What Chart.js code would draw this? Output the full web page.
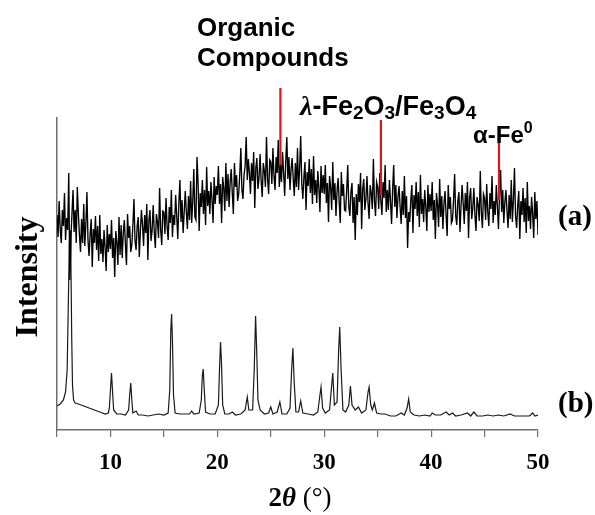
<!DOCTYPE html>
<html><head><meta charset="utf-8">
<script src="https://cdn.jsdelivr.net/npm/chart.js@4.4.1/dist/chart.umd.min.js"></script>
<style>html,body{margin:0;padding:0;background:#fff}#wrap{width:595px;height:515px;position:relative}</style>
</head><body><div id="wrap"><canvas id="c" width="595" height="515"></canvas></div>
<script>
// ---- data (arbitrary intensity units) ----
const aStart = 5.0;   // 2θ of first point of pattern (a)
const aStep = 0.1;    // 2θ step of pattern (a)
const aIntensity = [
215,193,229,201,187,220,204,237,190,212,
200,257,150,192,216,240,198,220,187,243,
216,195,178,211,187,226,184,206,238,190,
174,196,211,163,201,187,214,180,204,169,
215,176,191,168,200,183,159,205,178,196,
181,210,172,192,153,199,188,165,213,175,
205,172,197,210,186,165,216,192,204,178,
185,205,231,189,180,204,213,173,199,220,
205,184,215,197,226,170,210,220,189,200,
225,198,182,216,208,192,242,200,185,219,
218,196,232,204,190,223,207,240,193,215,
205,235,214,191,226,250,208,230,197,218,
239,218,201,234,210,249,207,229,261,213,
210,273,247,199,237,223,250,216,240,205,
263,224,239,216,248,231,207,253,226,244,
235,264,226,246,207,253,242,219,267,229,
256,223,248,261,237,216,267,243,255,229,
236,256,282,240,231,255,264,293,250,271,
257,236,267,249,278,222,262,272,241,252,
276,249,233,267,259,243,293,251,236,270,
268,246,282,254,240,273,257,290,243,265,
248,278,257,234,269,293,251,273,240,261,
272,251,234,267,243,282,240,262,294,246,
231,253,268,220,258,244,271,237,261,226,
274,235,250,227,259,242,218,264,237,255,
236,265,227,247,208,254,243,220,268,230,
247,214,239,252,228,207,258,234,246,220,
219,239,265,223,214,238,247,207,233,190,
236,215,246,228,257,201,241,251,220,231,
254,227,211,245,237,221,271,229,214,248,
243,221,257,229,215,248,232,265,218,240,
220,250,229,206,241,265,223,245,212,233,
244,223,206,239,215,254,212,234,182,218,
208,230,245,197,235,221,248,214,238,203,
255,216,231,208,240,223,199,245,218,236,
219,248,210,230,191,237,226,203,251,213,
234,201,226,239,215,194,245,221,233,207,
210,230,256,214,205,229,238,198,224,245,
227,206,237,219,248,192,232,242,211,222,
242,215,199,233,225,209,259,217,202,236,
232,210,246,218,204,237,221,254,207,229,
215,245,224,201,236,260,218,240,207,228,
240,219,202,235,211,250,208,230,262,214,
202,224,239,191,229,215,242,208,232,197,
248,209,224,201,233,216,192,238,211,229,
195
];
const bTheta = [
5.0,5.3,5.6,5.8,5.95,6.05,6.15,6.22,6.3,6.38,6.45,6.55,6.7,7.0,7.5,8.0,8.5,9.0,9.5,9.8,
9.9,10.0,10.1,10.2,10.3,10.6,11.0,11.4,11.7,11.8,11.9,12.0,12.1,12.4,12.6,13.0,13.5,14.0,14.5,15.0,
15.4,15.55,15.65,15.72,15.8,15.9,16.05,16.5,17.0,17.4,17.6,17.8,18.3,18.5,18.6,18.68,18.78,18.9,19.3,19.8,
20.1,20.2,20.3,20.38,20.5,20.7,21.1,21.4,21.7,22.2,22.6,22.8,22.95,23.3,23.45,23.58,23.68,23.8,24.0,24.4,
24.8,25.0,25.2,25.6,25.85,26.05,26.5,26.8,26.95,27.07,27.18,27.35,27.6,27.8,28.0,28.5,29.0,29.4,29.6,29.7,
29.85,30.1,30.5,30.7,30.8,30.95,31.2,31.35,31.45,31.58,31.75,32.0,32.3,32.45,32.6,32.9,33.2,33.5,33.9,34.1,
34.2,34.35,34.5,34.7,34.9,35.3,35.7,36.2,36.7,37.2,37.5,37.75,37.9,38.05,38.4,38.9,39.4,39.9,40.1,40.4,
40.9,41.4,41.7,42.0,42.3,42.8,43.4,43.7,44.0,44.3,44.8,45.3,45.8,46.3,46.8,47.4,47.8,48.3,48.8,49.2,
49.5,49.7,50.0
];
const bIntensity = [
24,26,30,38,60,120,185,200,170,90,45,30,27,26,24,22,20,18,16,17,
22,40,57,38,20,16,16,15,20,35,47,30,17,19,15,15,14,15,16,15,
17,40,100,116,90,35,17,16,16,16,19,16,17,30,55,61,40,18,16,16,
25,60,88,70,25,16,16,18,15,16,20,33,20,20,60,114,80,30,20,16,
17,23,16,18,28,16,16,22,60,82,50,18,18,29,17,16,15,18,35,43,
22,17,20,45,57,25,28,80,103,60,20,18,25,44,25,20,23,17,20,38,
43,25,20,27,17,16,16,14,14,17,15,22,31,18,15,14,15,14,17,15,
15,18,15,17,14,15,17,14,18,14,14,15,14,15,14,16,14,14,14,14,
17,14,15
];
// phase marker lines: 2θ position, top and bottom intensity
const markerTheta  = [25.9, 35.3, 46.35];
const markerTop    = [342, 310, 287];
const markerBottom = [265, 235, 230];
const xTickLabels = [10, 20, 30, 40, 50];

// ---- build datasets ----
const aPoints = aIntensity.map((v, i) => ({x: Math.round((aStart + i * aStep) * 100) / 100, y: v}));
const bPoints = bTheta.map((t, i) => ({x: t, y: bIntensity[i]}));
const markerSets = markerTheta.map((t, i) => ({
  data: [{x: t, y: markerBottom[i]}, {x: t, y: markerTop[i]}],
  showLine: true, borderColor: '#e3121b', borderWidth: 2.2, pointRadius: 0, clip: false, order: 0
}));

const textPlugin = {
  id: 'texts',
  afterDraw(chart) {
    const ctx = chart.ctx;
    ctx.save();
    ctx.fillStyle = '#000';
    ctx.textBaseline = 'alphabetic';
    const rich = (parts, x, y) => {
      let cx = x;
      parts.forEach(p => { ctx.font = p.f; ctx.fillText(p.t, cx, y + (p.dy || 0)); cx += ctx.measureText(p.t).width; });
    };
    const sans = 'bold 26px "Liberation Sans", Arial, sans-serif';
    ctx.font = sans;
    ctx.textAlign = 'left';
    ctx.fillText('Organic', 197, 36);
    ctx.fillText('Compounds', 197, 66);
    const lam = 'bold 27px "Liberation Sans", Arial, sans-serif';
    const lamS = 'bold 19px "Liberation Sans", Arial, sans-serif';
    rich([
      {t: 'λ', f: 'italic bold 28px "Liberation Serif", serif'},
      {t: '-Fe', f: lam}, {t: '2', f: lamS, dy: 4},
      {t: 'O', f: lam}, {t: '3', f: lamS, dy: 4},
      {t: '/Fe', f: lam}, {t: '3', f: lamS, dy: 4},
      {t: 'O', f: lam}, {t: '4', f: lamS, dy: 4}
    ], 300, 115);
    rich([
      {t: 'α-Fe', f: 'bold 24px "Liberation Sans", Arial, sans-serif'},
      {t: '0', f: 'bold 16px "Liberation Sans", Arial, sans-serif', dy: -10}
    ], 473, 143);
    ctx.font = 'bold 29px "Liberation Serif", serif';
    ctx.fillText('(a)', 558, 225);
    ctx.fillText('(b)', 558, 412);
    // y title
    ctx.save();
    ctx.translate(37, 277);
    ctx.rotate(-Math.PI / 2);
    ctx.textAlign = 'center';
    ctx.font = 'bold 32px "Liberation Serif", serif';
    ctx.fillText('Intensity', 0, 0);
    ctx.restore();
    // x title
    const parts = [
      {t: '2', f: 'bold 27px "Liberation Serif", serif'},
      {t: 'θ', f: 'italic bold 27px "Liberation Serif", serif'},
      {t: ' (°)', f: '27px "Liberation Serif", serif'}
    ];
    let w = 0; parts.forEach(p => { ctx.font = p.f; w += ctx.measureText(p.t).width; });
    ctx.textAlign = 'left';
    rich(parts, 300 - w / 2, 506);
    ctx.restore();
  }
};

new Chart(document.getElementById('c'), {
  type: 'scatter',
  data: {
    datasets: [
      ...markerSets,
      {data: aPoints, showLine: true, borderColor: '#000', borderWidth: 1.35, pointRadius: 0, order: 1},
      {data: bPoints, showLine: true, borderColor: '#1a1a1a', borderWidth: 1.2, pointRadius: 0, order: 1}
    ]
  },
  options: {
    responsive: false, animation: false, devicePixelRatio: 1,
    layout: {padding: {left: 57, right: 57, top: 118, bottom: 40}},
    plugins: {legend: {display: false}, tooltip: {enabled: false}},
    scales: {
      x: {
        type: 'linear', min: 5, max: 50,
        border: {display: true, color: '#6e6e6e', width: 1.5},
        grid: {display: true, drawOnChartArea: false, drawTicks: true, tickLength: 7, color: '#6e6e6e', lineWidth: 1.2},
        ticks: {
          stepSize: 5, autoSkip: false, maxRotation: 0, padding: 12, color: '#000',
          font: {family: '"Liberation Serif", serif', size: 23, weight: 'bold'},
          callback: v => xTickLabels.includes(v) ? String(v) : ''
        },
        afterFit: s => { s.height = 45; }
      },
      y: {
        type: 'linear', min: 0, max: 312,
        border: {display: true, color: '#6e6e6e', width: 1.5},
        grid: {display: false}, ticks: {display: false},
        afterFit: s => { s.width = 0; }
      }
    }
  },
  plugins: [textPlugin]
});
</script>
</body></html>
